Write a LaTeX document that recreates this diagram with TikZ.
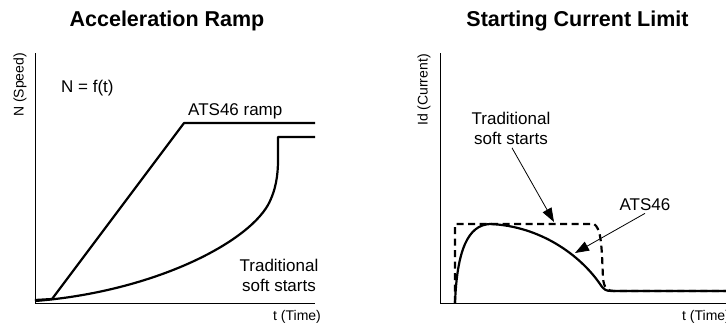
\documentclass[tikz,border=0pt]{standalone}
\usepackage{fontspec}
\setmainfont{Liberation Sans}
\usetikzlibrary{arrows.meta}
\tikzset{
  axis/.style={line width=1pt},
  curve/.style={line width=2.2pt, line join=round},
  dashcurve/.style={line width=2.2pt, dash pattern=on 7pt off 4.5pt},
  ptr/.style={line width=0.8pt, -{Triangle[length=14pt,width=10pt]}},
  ttl/.style={font=\bfseries\fontsize{21.5}{24}\selectfont, inner sep=0pt},
  lbl/.style={font=\fontsize{17}{20}\selectfont, inner sep=0pt},
  axl/.style={font=\fontsize{14}{16}\selectfont, inner sep=0pt}
}
\begin{document}
\begin{tikzpicture}[x=1pt,y=-1pt]
\clip (0,0) rectangle (726,324);
\fill[white] (0,0) rectangle (726,324);
% ---------- left panel ----------
\node[ttl, anchor=base] (t1) at (167,27) {Acceleration Ramp};
\coordinate (o1) at (35,303);
\coordinate (ytop1) at (35,53);
\coordinate (xend1) at (315,303);
\draw[axis] (ytop1) -- (o1) -- (xend1);
\node[axl, rotate=90] (yl1) at (20,85) {N (Speed)};
\node[axl, anchor=base west] (xl1) at (273,320) {t (Time)};
\node[lbl, anchor=base west] (nf) at (61,92) {N = f(t)};
\node[lbl, anchor=base west] (ramp) at (188,115) {ATS46 ramp};
\node[lbl, align=center, anchor=north] (trad1) at (279,259) {Traditional\\soft starts};
\draw[curve] (35,300) -- (52,299) -- (184,123) -- (315,123);
\draw[curve] (35,301) .. controls (150,292) and (245,245) .. (268,205)
  .. controls (276,190) and (278,175) .. (278,160) -- (278,137) -- (315,137);
% ---------- right panel ----------
\node[ttl, anchor=base] (t2) at (577.5,27) {Starting Current Limit};
\coordinate (o2) at (440,303);
\coordinate (ytop2) at (440,53);
\coordinate (xend2) at (726,303);
\draw[axis] (ytop2) -- (o2) -- (xend2);
\node[axl, rotate=90] (yl2) at (424,90) {Id (Current)};
\node[axl, anchor=base west] (xl2) at (682,320) {t (Time)};
\draw[dashcurve] (455,303) -- (455,224) -- (594,224)
  .. controls (600,228) and (601,240) .. (602,255) -- (603,278)
  .. controls (604,288) and (607,291) .. (614,291) -- (726,291);
\draw[curve] (455,303) .. controls (457,250) and (468,225) .. (490,224)
  .. controls (540,226) and (580,255) .. (600,284)
  .. controls (604,290) and (606,291) .. (612,291) -- (726,291);
\node[lbl, align=center, anchor=north] (trad2) at (511,112) {Traditional\\soft starts};
\node[lbl, anchor=base] (ats) at (645,210) {ATS46};
\coordinate (tip1) at (554,222);
\coordinate (tip2) at (575,253);
\draw[ptr] ([xshift=1pt,yshift=-3pt]trad2.south) -- (tip1);
\draw[ptr] ([yshift=-3pt]ats.south) -- (tip2);
\end{tikzpicture}
\end{document}
